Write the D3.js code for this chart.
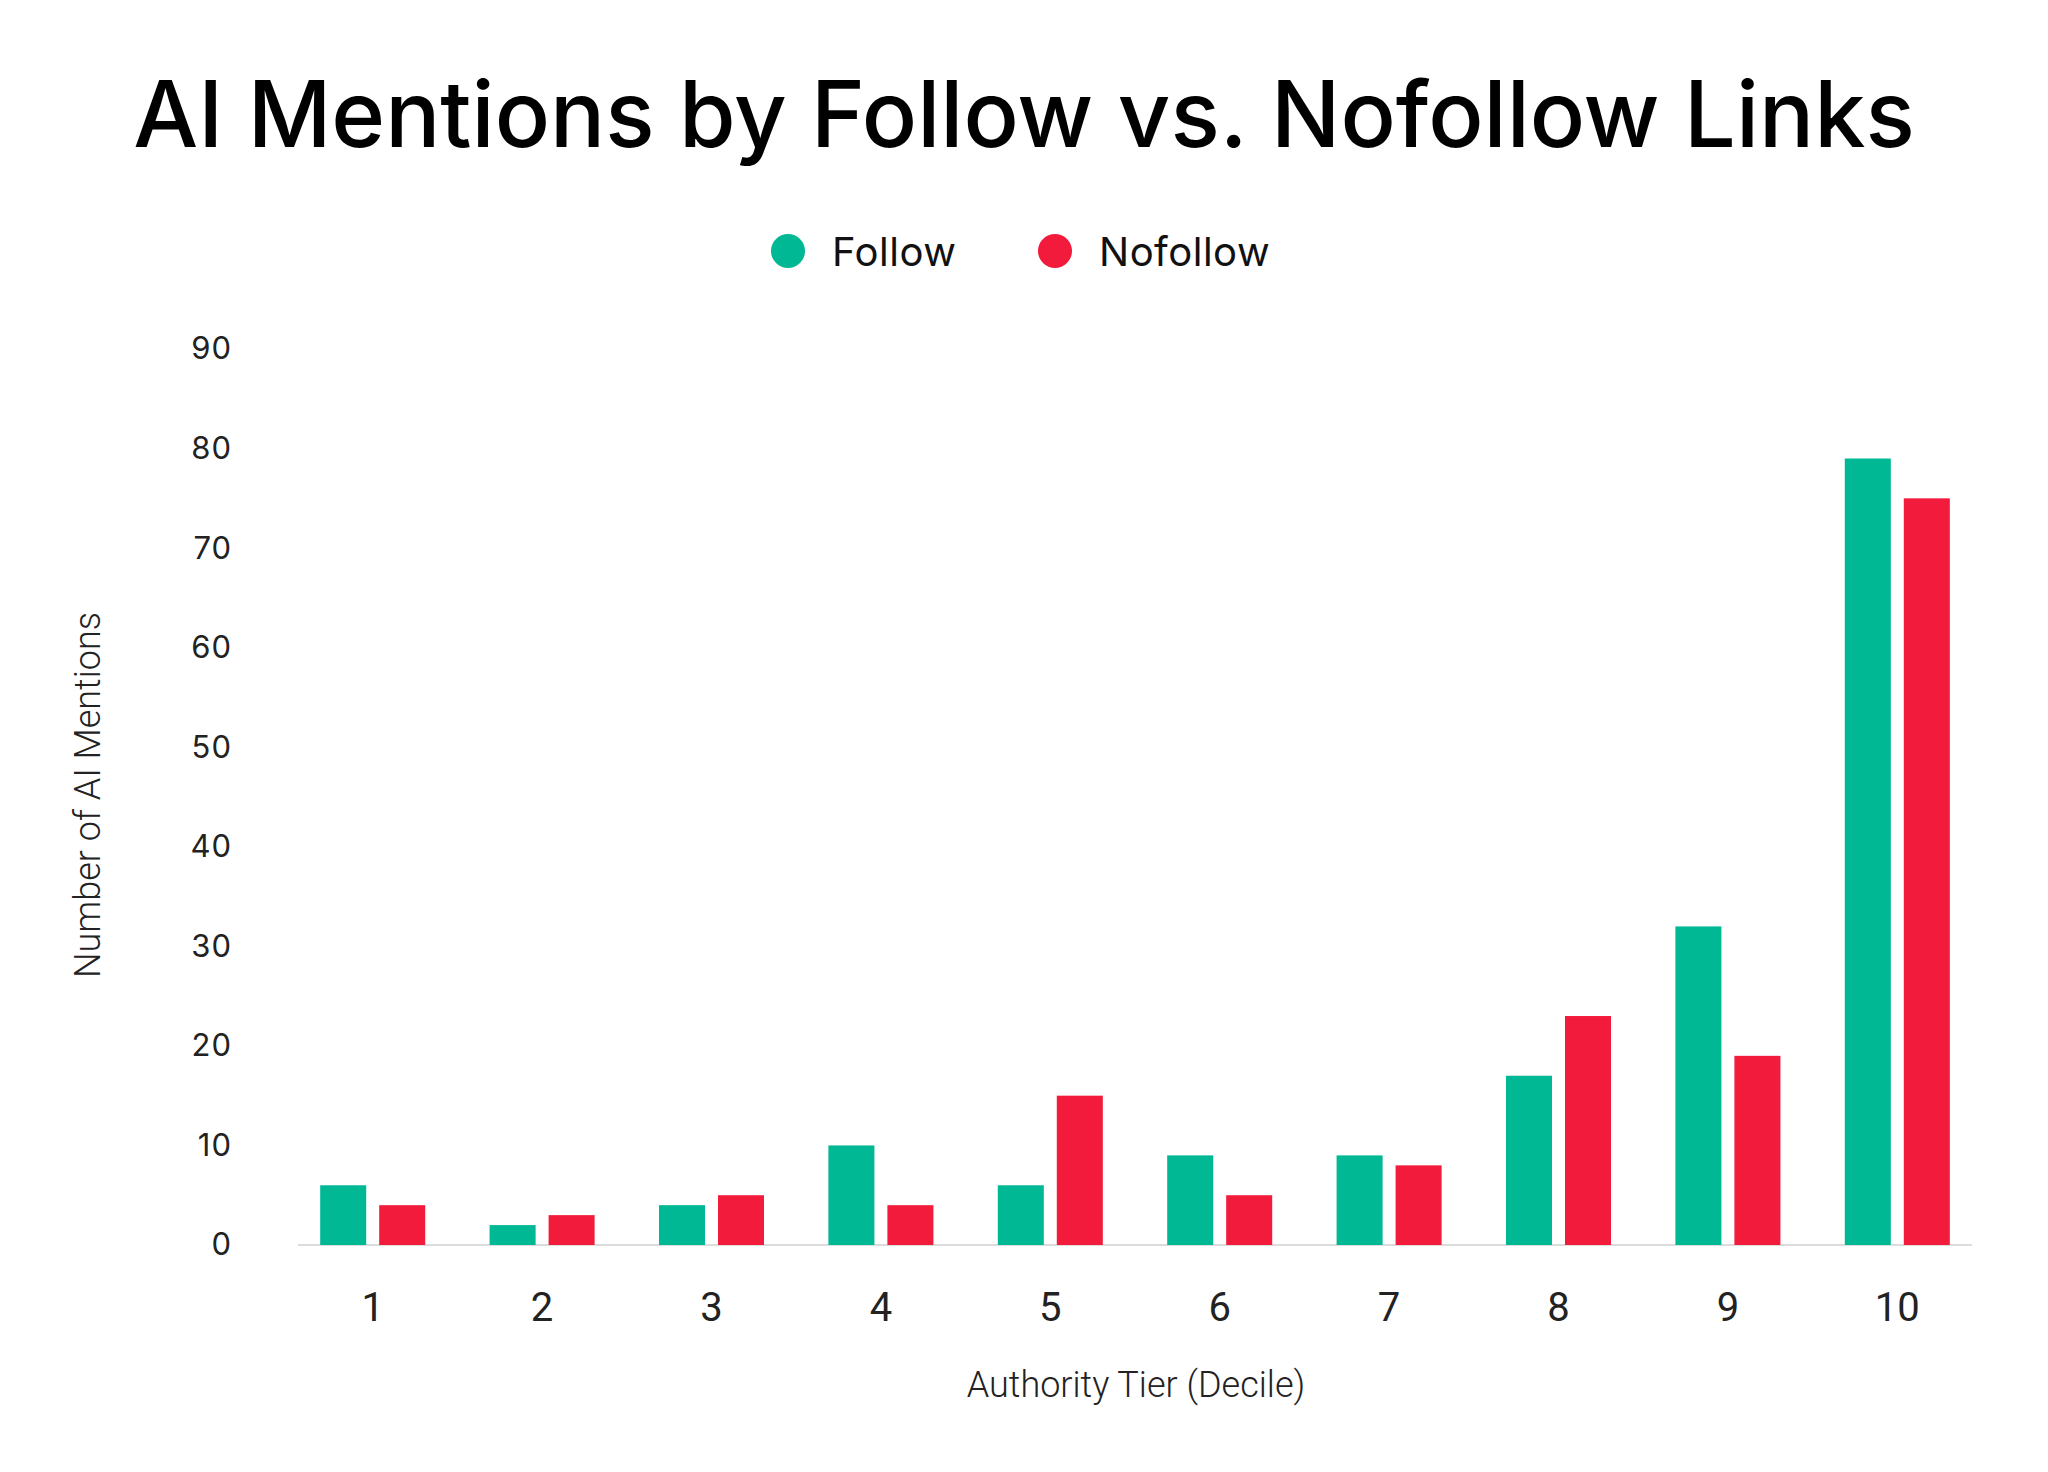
<!DOCTYPE html>
<html>
<head>
<meta charset="utf-8">
<script src="https://cdn.jsdelivr.net/npm/d3@7"></script>
<style>
	html, body { margin: 0; padding: 0; background: #fff; }
	#chart { width: 2048px; height: 1472px; }
</style>
</head>
<body>
<div id="chart"></div>
<script>
// Data
const deciles = ['1', '2', '3', '4', '5', '6', '7', '8', '9', '10'];
const seriesNames = ['Follow', 'Nofollow'];
const followValues = [6, 2, 4, 10, 6, 9, 9, 17, 32, 79];
const nofollowValues = [4, 3, 5, 4, 15, 5, 8, 23, 19, 75];
const yTicks = [0, 10, 20, 30, 40, 50, 60, 70, 80, 90];

const width = 2048,
		height = 1472,
		margin = {top: 349, right: 66, bottom: 227, left: 288};

const colors = d3.scaleOrdinal()
	.domain(seriesNames)
	.range(['#00B894', '#F21B3B']);

const rows = deciles.map((d, i) => ({
	decile: d,
	values: [
		{key: 'Follow', value: followValues[i]},
		{key: 'Nofollow', value: nofollowValues[i]}
	]
}));

const svg = d3.select('#chart').append('svg')
	.attr('width', width)
	.attr('height', height);

// Scales
const x0 = d3.scaleBand()
	.domain(deciles)
	.range([margin.left, width - margin.right])
	.paddingInner(0.38)
	.paddingOuter(0.19);

const x1 = d3.scaleBand()
	.domain(seriesNames)
	.range([0, x0.bandwidth()])
	.paddingInner(0.22);

const y = d3.scaleLinear()
	.domain([0, 90])
	.range([height - margin.bottom, margin.top]);

// Title, fit to the width it has in the reference
const title = svg.append('text')
	.attr('x', width / 2)
	.attr('y', 147)
	.attr('text-anchor', 'middle')
	.style('font-family', 'Inter, "Noto Sans", sans-serif')
	.style('font-weight', 500)
	.style('font-size', '100px')
	.style('fill', '#000')
	.text('AI Mentions by Follow vs. Nofollow Links');
const tw = title.node().getComputedTextLength();
title.style('font-size', (100 * 1782 / tw) + 'px');

// Legend
const legend = svg.append('g').attr('class', 'legend');
const legendX = [788, 1055];
seriesNames.forEach((name, i) => {
	legend.append('circle')
		.attr('cx', legendX[i])
		.attr('cy', 251)
		.attr('r', 17)
		.style('fill', colors(name));
	legend.append('text')
		.attr('x', legendX[i] + 44)
		.attr('y', 266)
		.style('font-family', 'Inter, "Noto Sans", sans-serif')
		.style('font-size', '40px')
		.style('letter-spacing', '0.5px')
		.style('fill', '#111')
		.text(name);
});

// Baseline
svg.append('line')
	.attr('x1', margin.left + 10)
	.attr('x2', width - margin.right - 10)
	.attr('y1', y(0))
	.attr('y2', y(0))
	.style('stroke', '#dcdcdc')
	.style('stroke-width', 2);

// Bars
const groups = svg.selectAll('.decile')
	.data(rows)
	.enter()
	.append('g')
	.classed('decile', true)
	.attr('transform', d => `translate(${x0(d.decile)},0)`);

groups.selectAll('rect')
	.data(d => d.values)
	.enter()
	.append('rect')
	.attr('x', d => x1(d.key))
	.attr('y', d => y(d.value))
	.attr('width', x1.bandwidth())
	.attr('height', d => y(0) - y(d.value))
	.style('fill', d => colors(d.key));

// Axes
const xAxis = svg.append('g')
	.attr('transform', `translate(0,${y(0)})`)
	.call(d3.axisBottom(x0).tickSize(0).tickPadding(48));
xAxis.select('.domain').remove();
xAxis.selectAll('text')
	.style('font-family', 'Roboto, sans-serif')
	.style('font-size', '40px')
	.style('fill', '#222');

const yAxis = svg.append('g')
	.attr('transform', `translate(${232},0)`)
	.call(d3.axisLeft(y).tickValues(yTicks).tickSize(0).tickPadding(0));
yAxis.select('.domain').remove();
yAxis.selectAll('text')
	.style('font-family', 'Inter, "Noto Sans", sans-serif')
	.style('font-size', '31px')
	.style('letter-spacing', '1px')
	.style('fill', '#222');

// Axis titles
svg.append('text')
	.attr('x', 1136)
	.attr('y', 1397)
	.attr('text-anchor', 'middle')
	.style('font-family', 'Roboto, sans-serif')
	.style('font-weight', 300)
	.style('font-size', '36px')
	.style('fill', '#222')
	.text('Authority Tier (Decile)');

svg.append('text')
	.attr('transform', 'translate(100,795) rotate(-90)')
	.attr('text-anchor', 'middle')
	.style('font-family', 'Roboto, sans-serif')
	.style('font-weight', 300)
	.style('font-size', '36px')
	.style('fill', '#222')
	.text('Number of AI Mentions');
</script>
</body>
</html>
